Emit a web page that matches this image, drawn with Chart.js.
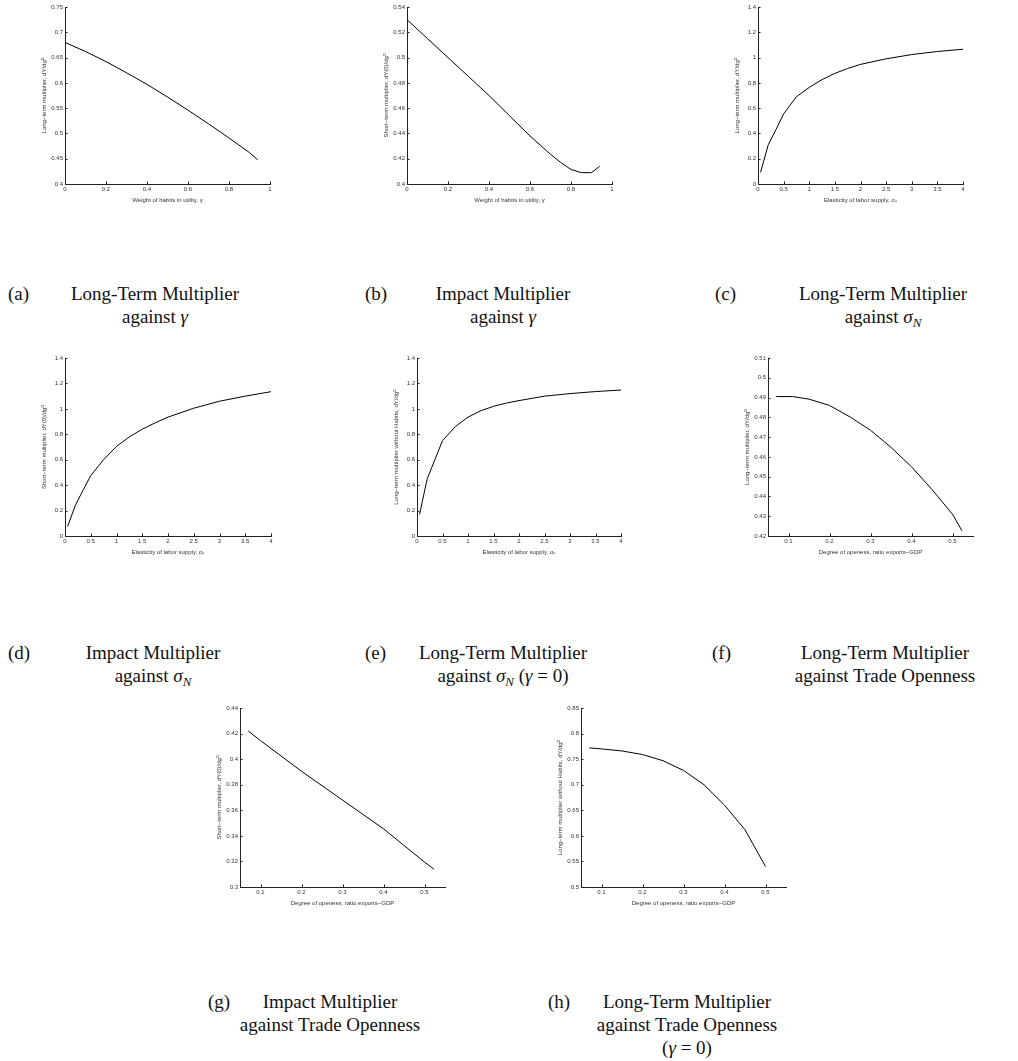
<!DOCTYPE html>
<html>
<head>
<meta charset="utf-8">
<script src="https://cdn.jsdelivr.net/npm/chart.js@4.4.1/dist/chart.umd.min.js"></script>
<style>
  body { margin: 0; background: #fff; width: 1018px; height: 1061px; position: relative; overflow: hidden; }
  canvas { position: absolute; }
  .cap { position: absolute; font-family: "Liberation Serif", "DejaVu Serif", serif; font-size: 19px; line-height: 23px; color: #111; white-space: nowrap; }
  .cap .txt { position: absolute; top: 0; text-align: center; transform: translateX(-50%); }
</style>
</head>
<body>
<script>
// (a) long-term multiplier against habit weight gamma
const habitWeightA = [0, 0.1, 0.2, 0.3, 0.4, 0.5, 0.6, 0.7, 0.8, 0.9, 0.94];
const longTermA    = [0.680, 0.662, 0.642, 0.620, 0.597, 0.572, 0.546, 0.519, 0.491, 0.462, 0.448];

// (b) impact multiplier against gamma
const habitWeightB = [0, 0.1, 0.2, 0.3, 0.4, 0.5, 0.6, 0.7, 0.75, 0.8, 0.85, 0.9, 0.94];
const impactB      = [0.530, 0.515, 0.500, 0.485, 0.470, 0.454, 0.438, 0.4235, 0.417, 0.4115, 0.409, 0.409, 0.414];

// (c)-(e) against elasticity of labor supply
const elasticity   = [0.05, 0.2, 0.35, 0.5, 0.75, 1, 1.25, 1.5, 1.75, 2, 2.5, 3, 3.5, 4];
const longTermC    = [0.092, 0.31, 0.43, 0.555, 0.69, 0.764, 0.826, 0.875, 0.914, 0.946, 0.99, 1.024, 1.048, 1.066];
const impactD      = [0.075, 0.24, 0.36, 0.475, 0.60, 0.705, 0.78, 0.84, 0.89, 0.935, 1.005, 1.06, 1.10, 1.135];
const noHabitsE    = [0.17, 0.45, 0.60, 0.75, 0.86, 0.935, 0.985, 1.02, 1.045, 1.065, 1.10, 1.12, 1.136, 1.148];

// (f)-(h) against trade openness
const opennessF    = [0.07, 0.11, 0.15, 0.2, 0.25, 0.3, 0.35, 0.4, 0.45, 0.5, 0.523];
const longTermF    = [0.4905, 0.4905, 0.4892, 0.486, 0.4802, 0.4735, 0.4648, 0.455, 0.4435, 0.431, 0.4227];
const opennessG    = [0.07, 0.1, 0.2, 0.3, 0.4, 0.5, 0.523];
const impactG      = [0.422, 0.4145, 0.3905, 0.368, 0.3455, 0.3195, 0.314];
const opennessH    = [0.07, 0.1, 0.15, 0.2, 0.25, 0.3, 0.35, 0.4, 0.45, 0.5];
const noHabitsH    = [0.772, 0.770, 0.766, 0.759, 0.747, 0.728, 0.700, 0.660, 0.612, 0.540];

// tick values
const gammaTicks    = [0, 0.2, 0.4, 0.6, 0.8, 1];
const sigmaTicks    = [0, 0.5, 1, 1.5, 2, 2.5, 3, 3.5, 4];
const openTicks     = [0.1, 0.2, 0.3, 0.4, 0.5];
const yTicksA       = [0.4, 0.45, 0.5, 0.55, 0.6, 0.65, 0.7, 0.75];
const yTicksB       = [0.4, 0.42, 0.44, 0.46, 0.48, 0.5, 0.52, 0.54];
const yTicksSigma   = [0, 0.2, 0.4, 0.6, 0.8, 1, 1.2, 1.4];
const yTicksF       = [0.42, 0.43, 0.44, 0.45, 0.46, 0.47, 0.48, 0.49, 0.5, 0.51];
const yTicksG       = [0.3, 0.32, 0.34, 0.36, 0.38, 0.4, 0.42, 0.44];
const yTicksH       = [0.5, 0.55, 0.6, 0.65, 0.7, 0.75, 0.8, 0.85];

const ltTitle  = 'Long\u2212term multiplier, dY/dg\u1D30';
const stTitle  = 'Short\u2212term multiplier, dY(0)/dg\u1D30';
const nhTitle  = 'Long\u2212term multiplier without Habits, dY/dg\u1D30';
const gammaX   = 'Weight of habits in utility, \u03B3';
const sigmaX   = 'Elasticity of labor supply, \u03C3\u2099';
const openX    = 'Degree of openess, ratio exports\u2212GDP';

const fmt = v => String(+v.toFixed(3));
const axisFont = { family: '"Liberation Sans", Arial, sans-serif', size: 6 };

// MATLAB style: ticks point into the plot
const inwardTicks = {
  id: 'inwardTicks',
  afterDraw(chart) {
    const { ctx, chartArea: a, scales: { x, y } } = chart;
    ctx.save();
    ctx.strokeStyle = '#222';
    ctx.lineWidth = 1;
    ctx.beginPath();
    x.ticks.forEach(t => {
      const px = Math.round(x.getPixelForValue(t.value)) + 0.5;
      ctx.moveTo(px, a.bottom); ctx.lineTo(px, a.bottom - 2.5);
    });
    y.ticks.forEach(t => {
      const py = Math.round(y.getPixelForValue(t.value)) + 0.5;
      ctx.moveTo(a.left, py); ctx.lineTo(a.left + 2.5, py);
    });
    ctx.stroke();
    ctx.restore();
  }
};

function axis(min, max, ticks, title, fitFn) {
  return {
    type: 'linear', min, max,
    afterBuildTicks: s => { s.ticks = ticks.map(v => ({ value: v })); },
    afterFit: fitFn,
    ticks: { font: axisFont, color: '#333', padding: 2, maxRotation: 0, autoSkip: false, callback: fmt },
    grid: { display: false, drawTicks: false },
    border: { display: true, color: '#222', width: 1 },
    title: { display: true, text: title, font: axisFont, color: '#333', padding: 0 }
  };
}

// box = plot area [left, top, right, bottom] in page pixels
function panel(box, xs, ys, xr, xt, xTitle, yr, yt, yTitle) {
  const [l, t, r, b] = box;
  const cv = document.createElement('canvas');
  const W = 24, H = 20, padT = 6, padR = 8;
  cv.width = r - l + W + padR;
  cv.height = b - t + H + padT;
  cv.style.left = (l - W) + 'px';
  cv.style.top = (t - padT) + 'px';
  document.body.appendChild(cv);
  new Chart(cv, {
    type: 'line',
    data: { datasets: [{ data: xs.map((x, i) => ({ x, y: ys[i] })), borderColor: '#000', borderWidth: 1, pointRadius: 0, tension: 0, fill: false }] },
    options: {
      responsive: false, animation: false,
      layout: { padding: { top: padT, right: padR, left: 0, bottom: 0 } },
      plugins: { legend: { display: false }, tooltip: { enabled: false } },
      scales: {
        x: axis(xr[0], xr[1], xt, xTitle, s => { s.height = H; }),
        y: axis(yr[0], yr[1], yt, yTitle, s => { s.width = W; })
      }
    },
    plugins: [inwardTicks]
  });
}

panel([65, 7, 270, 184], habitWeightA, longTermA, [0, 1], gammaTicks, gammaX, [0.4, 0.75], yTicksA, ltTitle);
panel([407, 7, 612, 184], habitWeightB, impactB, [0, 1], gammaTicks, gammaX, [0.4, 0.54], yTicksB, stTitle);
panel([758, 7, 963, 184], elasticity, longTermC, [0, 4], sigmaTicks, sigmaX, [0, 1.4], yTicksSigma, ltTitle);
panel([65, 358, 271, 536], elasticity, impactD, [0, 4], sigmaTicks, sigmaX, [0, 1.4], yTicksSigma, stTitle);
panel([417, 358, 621, 536], elasticity, noHabitsE, [0, 4], sigmaTicks, sigmaX, [0, 1.4], yTicksSigma, nhTitle);
panel([768, 358, 973, 536], opennessF, longTermF, [0.05, 0.55], openTicks, openX, [0.42, 0.51], yTicksF, ltTitle);
panel([240, 708, 445, 887], opennessG, impactG, [0.05, 0.55], openTicks, openX, [0.3, 0.44], yTicksG, stTitle);
panel([581, 708, 786, 887], opennessH, noHabitsH, [0.05, 0.55], openTicks, openX, [0.5, 0.85], yTicksH, nhTitle);

// sub-figure captions: [label, label x, text centre x, top y, lines]
const captions = [
  ['(a)', 8, 155, 282, ['Long-Term Multiplier', 'against <i>\u03B3</i>']],
  ['(b)', 365, 503, 282, ['Impact Multiplier', 'against <i>\u03B3</i>']],
  ['(c)', 715, 883, 282, ['Long-Term Multiplier', 'against <i>\u03C3<sub>N</sub></i>']],
  ['(d)', 8, 153, 641, ['Impact Multiplier', 'against <i>\u03C3<sub>N</sub></i>']],
  ['(e)', 365, 503, 641, ['Long-Term Multiplier', 'against <i>\u03C3<sub>N</sub></i> (<i>\u03B3</i> = 0)']],
  ['(f)', 712, 885, 641, ['Long-Term Multiplier', 'against Trade Openness']],
  ['(g)', 208, 330, 990, ['Impact Multiplier', 'against Trade Openness']],
  ['(h)', 548, 687, 990, ['Long-Term Multiplier', 'against Trade Openness', '(<i>\u03B3</i> = 0)']]
];
captions.forEach(([lab, lx, cx, top, lines]) => {
  const d = document.createElement('div');
  d.className = 'cap';
  d.style.left = lx + 'px';
  d.style.top = top + 'px';
  d.innerHTML = lab + '<div class="txt" style="left:' + (cx - lx) + 'px">' + lines.join('<br>') + '</div>';
  document.body.appendChild(d);
});
</script>
<style>sub { font-size: 13px; line-height: 0; vertical-align: -4px; }</style>
</body>
</html>
